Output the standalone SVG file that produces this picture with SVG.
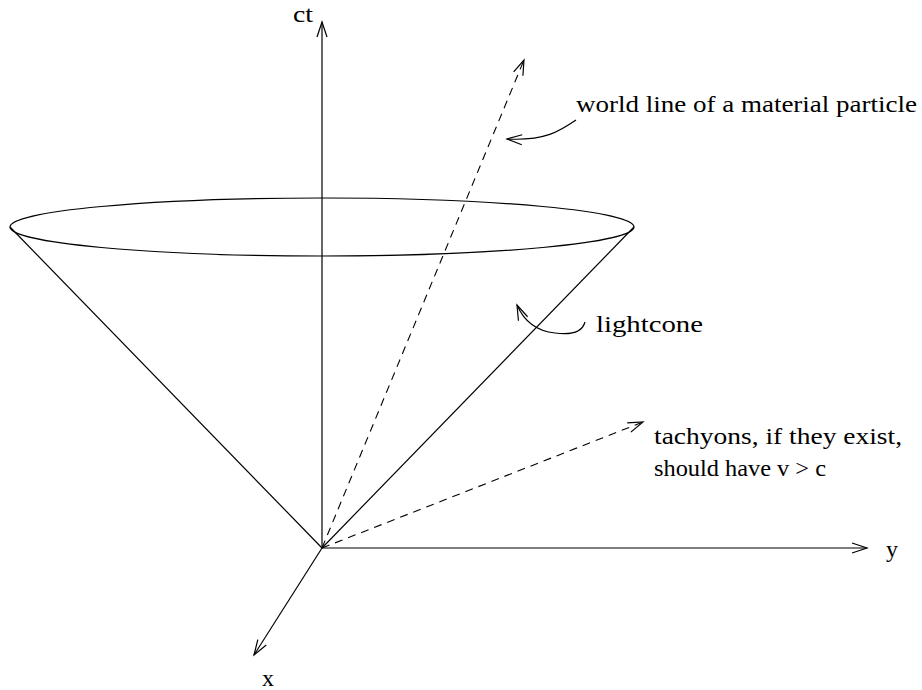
<svg xmlns="http://www.w3.org/2000/svg" width="922" height="690" viewBox="0 0 922 690">
<style>
.ln{stroke:#000;stroke-width:1.2;fill:none}
.ds{stroke:#000;stroke-width:1.1;fill:none;stroke-dasharray:8 6}
.t{font-family:"Liberation Serif","Times New Roman",serif;font-size:24px;fill:#000}
</style>
<defs>
<marker id="ah" markerUnits="userSpaceOnUse" markerWidth="20" markerHeight="14" refX="0" refY="0" viewBox="-17 -7 20 14" orient="auto" overflow="visible">
<path d="M-15,-5 L0,0 L-15,5" stroke="#000" stroke-width="1.2" fill="none"/>
</marker>
</defs>
<rect width="922" height="690" fill="#fff"/>
<g id="connectors">
<line class="ln" x1="322" y1="548" x2="322" y2="22" marker-end="url(#ah)"/>
<line class="ln" x1="322" y1="548" x2="867" y2="548" marker-end="url(#ah)"/>
<line class="ln" x1="322" y1="548" x2="254" y2="655" marker-end="url(#ah)"/>
<line class="ds" x1="322" y1="548" x2="524" y2="60" marker-end="url(#ah)"/>
<line class="ds" x1="322" y1="548" x2="643" y2="422" marker-end="url(#ah)"/>
<path class="ln" d="M576,120 C560,131 545,141 507,139" marker-end="url(#ah)"/>
<path class="ln" d="M585,322 C582,333 570,335 555,333 C535,331 524,321 517,305" marker-end="url(#ah)"/>
</g>
<g id="lightcone">
<ellipse class="ln" cx="322" cy="227" rx="312" ry="29"/>
<line class="ln" x1="10" y1="227" x2="322" y2="548"/>
<line class="ln" x1="634" y1="227" x2="322" y2="548"/>
</g>
<g id="labels">
<text class="t" x="293" y="22" textLength="20" lengthAdjust="spacingAndGlyphs">ct</text>
<text class="t" x="576" y="112" textLength="341" lengthAdjust="spacingAndGlyphs">world line of a material particle</text>
<text class="t" x="596" y="332" textLength="107" lengthAdjust="spacingAndGlyphs">lightcone</text>
<text class="t" x="654" y="444" textLength="248" lengthAdjust="spacingAndGlyphs">tachyons, if they exist,</text>
<text class="t" x="654" y="476" textLength="172" lengthAdjust="spacingAndGlyphs">should have v &gt; c</text>
<text class="t" x="886" y="557">y</text>
<text class="t" x="262" y="686">x</text>
</g>
</svg>
